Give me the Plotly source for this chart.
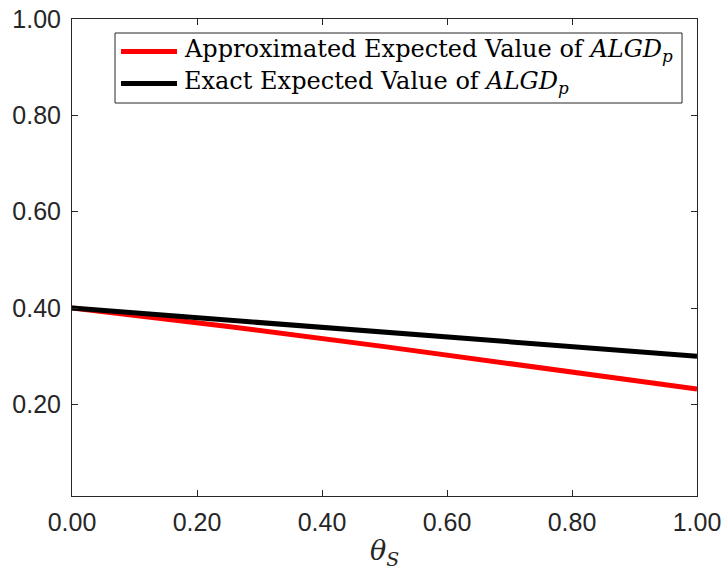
import plotly.graph_objects as go

# theta_S values and the two expected-value curves
theta_s = [0.0, 0.25, 0.5, 0.75, 1.0]
approx_expected = [0.400, 0.362, 0.320, 0.277, 0.232]
exact_expected = [0.400, 0.375, 0.350, 0.325, 0.300]

series_names = [
    "Approximated Expected Value of <i>ALGD</i><sub><i>p</i></sub>",
    "Exact Expected Value of <i>ALGD</i><sub><i>p</i></sub>",
]
series_colors = ["#ff0000", "#000000"]

x_ticks = [0.0, 0.2, 0.4, 0.6, 0.8, 1.0]
y_ticks = [0.2, 0.4, 0.6, 0.8, 1.0]

W, H = 725, 571
M_L, M_R, M_T, M_B = 72, 28, 19, 75
PLOT_W = W - M_L - M_R
PLOT_H = H - M_T - M_B

axis_color = "#262626"
tick_font = dict(family="Liberation Sans, Arial, sans-serif", size=25, color=axis_color)
serif = "DejaVu Serif, Liberation Serif, serif"


def px_x(px):
    """Convert a horizontal pixel offset into paper coordinates."""
    return (px - M_L) / PLOT_W


def px_y(py):
    """Convert a vertical pixel offset (from top) into paper coordinates."""
    return (H - M_B - py) / PLOT_H


fig = go.Figure()
for name, ys, color in zip(series_names, [approx_expected, exact_expected], series_colors):
    fig.add_trace(go.Scatter(
        x=theta_s, y=ys, mode="lines", name=name,
        line=dict(color=color, width=5), showlegend=False,
    ))

axis_common = dict(
    showline=True, linecolor=axis_color, linewidth=1, mirror="ticks",
    ticks="inside", ticklen=6, tickwidth=1, tickcolor=axis_color,
    showgrid=False, zeroline=False, tickfont=tick_font, tickformat=".2f",
    automargin=False,
)

fig.update_xaxes(
    range=[0, 1], tickvals=x_ticks, ticklabelstandoff=4,
    title=dict(text="<i>θ</i><sub><i>S</i></sub>",
               font=dict(family=serif, size=27, color=axis_color), standoff=6),
    **axis_common,
)
fig.update_yaxes(range=[0.01, 1.0], tickvals=y_ticks, ticklabelstandoff=5, **axis_common)

# Legend box drawn in paper space
box_l, box_r, box_t, box_b = 115, 682, 33, 103
row_y = [51.5, 83.5]
fig.add_shape(type="rect", xref="paper", yref="paper",
              x0=px_x(box_l), x1=px_x(box_r), y0=px_y(box_b), y1=px_y(box_t),
              line=dict(color=axis_color, width=1), fillcolor="white", layer="above")
for name, color, ry in zip(series_names, series_colors, row_y):
    fig.add_shape(type="line", xref="paper", yref="paper",
                  x0=px_x(121), x1=px_x(177), y0=px_y(ry), y1=px_y(ry),
                  line=dict(color=color, width=5), layer="above")
    fig.add_annotation(xref="paper", yref="paper", x=px_x(182), y=px_y(ry - 1),
                       xanchor="left", yanchor="middle", showarrow=False,
                       text=name, font=dict(family=serif, size=24, color="#000000"))

fig.update_layout(
    width=W, height=H,
    margin=dict(l=M_L, r=M_R, t=M_T, b=M_B),
    paper_bgcolor="white", plot_bgcolor="white",
    showlegend=False,
)

fig.write_html("out.html")
